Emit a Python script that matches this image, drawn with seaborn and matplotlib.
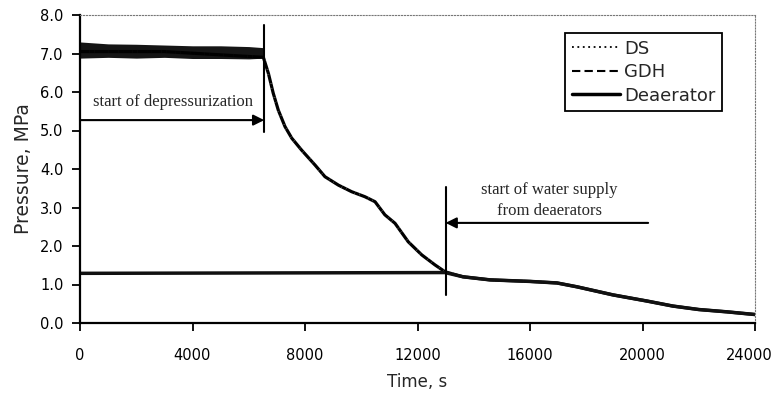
import matplotlib
matplotlib.use("Agg")
import matplotlib.pyplot as plt
from matplotlib.lines import Line2D
from matplotlib.transforms import ScaledTranslation
import seaborn as sns

# ---- data ----
band_time = [0, 1000, 2000, 3000, 4000, 5000, 6000, 6550]
band_high = [7.30, 7.25, 7.24, 7.22, 7.20, 7.20, 7.18, 7.15]
band_low = [6.88, 6.90, 6.88, 6.90, 6.87, 6.87, 6.86, 6.88]

time_ds = [0, 3000, 6520, 6700, 6870, 7050, 7290, 7530, 7880, 8360, 8710,
           9190, 9660, 10130, 10490, 10840, 11200, 11670, 12150, 12620,
           12980, 13620, 14580, 16000, 16960, 17670, 18950, 20160, 21080,
           22000, 23000, 24000]
ds = [7.05, 7.05, 6.90, 6.48, 5.97, 5.53, 5.10, 4.80, 4.49, 4.10, 3.80,
      3.58, 3.41, 3.28, 3.15, 2.81, 2.59, 2.11, 1.77, 1.51,
      1.33, 1.20, 1.12, 1.08, 1.04, 0.94, 0.73, 0.57, 0.44,
      0.35, 0.29, 0.22]
gdh = [7.05, 7.05, 6.90, 6.48, 5.97, 5.53, 5.10, 4.80, 4.49, 4.10, 3.80,
       3.58, 3.41, 3.28, 3.15, 2.81, 2.59, 2.11, 1.77, 1.51,
       1.33, 1.20, 1.12, 1.08, 1.04, 0.94, 0.73, 0.57, 0.44,
       0.35, 0.29, 0.22]

time_dea = [0, 12980, 13620, 14580, 16000, 16960, 17670, 18950,
            20160, 21080, 22000, 23000, 24000]
deaerator = [1.29, 1.31, 1.20, 1.12, 1.08, 1.04, 0.94, 0.73,
             0.57, 0.44, 0.35, 0.29, 0.22]

series_labels = ["DS", "GDH", "Deaerator"]
x_ticks = [0, 4000, 8000, 12000, 16000, 20000, 24000]
y_ticks = [0.0, 1.0, 2.0, 3.0, 4.0, 5.0, 6.0, 7.0, 8.0]

dep_time = 6550
dep_span = (4.95, 7.75)
dep_arrow_y = 5.27
water_time = 13000
water_span = (0.72, 3.53)
water_arrow_y = 2.6
water_arrow_from = 20200

# ---- plotting ----
sns.set_theme(style="ticks")
plt.rcParams["font.family"] = ["DejaVu Sans"]

fig = plt.figure(figsize=(7.75, 3.94), dpi=100)
ax = fig.add_axes([80 / 775, 1 - 323 / 394, 675 / 775, 308 / 394])

ax.fill_between(band_time, band_low, band_high, color="#151515", lw=0)
sns.lineplot(x=time_ds, y=gdh, ax=ax, color="black", lw=2.3,
             linestyle=(0, (3, 1.5)), sort=False)
sns.lineplot(x=time_ds, y=ds, ax=ax, color="black", lw=2.3,
             linestyle=(1.5, (1.5, 3)), sort=False)
sns.lineplot(x=time_dea, y=deaerator, ax=ax, color="#111111", lw=2.5,
             linestyle="-", sort=False)

# annotations
ax.plot([dep_time, dep_time], dep_span, color="black", lw=1.5)
ax.annotate("", xy=(dep_time, dep_arrow_y), xytext=(0, dep_arrow_y),
            arrowprops=dict(arrowstyle="-|>", color="black", lw=1.5,
                            mutation_scale=16, shrinkA=0, shrinkB=0))
ax.text(3300, 5.74, "start of depressurization", family="Liberation Serif",
        fontsize=12, ha="center", va="center")

ax.plot([water_time, water_time], water_span, color="black", lw=1.5)
ax.annotate("", xy=(water_time, water_arrow_y), xytext=(water_arrow_from, water_arrow_y),
            arrowprops=dict(arrowstyle="-|>", color="black", lw=1.5,
                            mutation_scale=16, shrinkA=0, shrinkB=0))
ax.text(16700, 3.45, "start of water supply", family="Liberation Serif",
        fontsize=12, ha="center", va="center")
ax.text(16700, 2.90, "from deaerators", family="Liberation Serif",
        fontsize=12, ha="center", va="center")

ax.set_xlim(0, 24000)
ax.set_ylim(0, 8)
ax.set_xticks(x_ticks)
ax.set_xticklabels([str(v) for v in x_ticks])
ax.set_yticks(y_ticks)
ax.set_yticklabels([f"{v:.1f}" for v in y_ticks])
ax.tick_params(axis="both", labelsize=10.5, direction="out", length=6,
               width=1.3, color="black", labelcolor="black")
ax.tick_params(axis="x", pad=12)
ax.tick_params(axis="y", pad=6)
ax.set_xlabel("Time, s", fontsize=12, labelpad=7)
ax.set_ylabel("Pressure, MPa", fontsize=13.5, labelpad=5)

last = ax.get_xticklabels()[-1]
last.set_transform(last.get_transform() +
                   ScaledTranslation(-6 / 100, 0, fig.dpi_scale_trans))

for s in ["left", "bottom"]:
    ax.spines[s].set_color("black")
    ax.spines[s].set_linewidth(1.6)
for s in ["top", "right"]:
    ax.spines[s].set_visible(True)
    ax.spines[s].set_color("#777777")
    ax.spines[s].set_linewidth(0.8)
    ax.spines[s].set_linestyle(":")

handles = [
    Line2D([], [], color="black", lw=1.3, linestyle=(0, (1, 2))),
    Line2D([], [], color="black", lw=1.5, linestyle=(0, (4, 2))),
    Line2D([], [], color="black", lw=2.5, linestyle="-"),
]
leg = ax.legend(handles, series_labels, loc="upper left",
                bbox_to_anchor=(0.719, 0.94), fontsize=13,
                frameon=True, fancybox=False, handlelength=2.7,
                handletextpad=0.2, borderpad=0.35, labelspacing=0.3,
                borderaxespad=0)
leg.get_frame().set_edgecolor("black")
leg.get_frame().set_linewidth(1.3)
leg.get_frame().set_facecolor("white")
leg.get_frame().set_alpha(1)

fig.savefig("out.png", dpi=100, facecolor="white")
